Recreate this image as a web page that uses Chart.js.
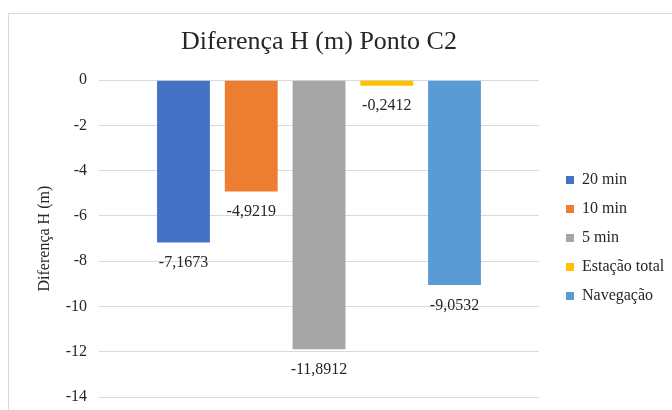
<!DOCTYPE html>
<html>
<head>
<meta charset="utf-8">
<script src="https://cdn.jsdelivr.net/npm/chart.js@4.4.1/dist/chart.umd.min.js"></script>
<style>
    html, body { margin: 0; padding: 0; background: #ffffff; }
    #wrap { width: 672px; height: 410px; }
</style>
</head>
<body>
<div id="wrap"><canvas id="chart" width="672" height="410"></canvas></div>
<script>
// Chart data
const chartTitle = 'Diferença H (m) Ponto C2';
const axisTitle = 'Diferença H (m)';
const categories = [''];
const seriesNames = ['20 min', '10 min', '5 min', 'Estação total', 'Navegação'];
const seriesValues = [-7.1673, -4.9219, -11.8912, -0.2412, -9.0532];
const yMin = -14;
const yMax = 0;
const yStep = 2;

// Office palette
const seriesColors = ['#4472C4', '#ED7D31', '#A5A5A5', '#FFC000', '#5B9BD5'];
const textColor = '#262626';
const gridColor = '#d9d9d9';
const serif = "'Liberation Serif', 'Times New Roman', serif";

function formatComma(v) {
    return String(v).replace('.', ',');
}

// Light frame around the chart area, like the Excel chart border
const framePlugin = {
    id: 'frame',
    beforeDraw(chart) {
        const ctx = chart.ctx;
        ctx.save();
        ctx.strokeStyle = gridColor;
        ctx.lineWidth = 1;
        ctx.strokeRect(8.5, 13.5, 700, 500);
        ctx.restore();
    }
};

// Move the legend out to the right edge
const legendPlugin = {
    id: 'legendSpot',
    afterLayout(chart) {
        const lg = chart.legend;
        if (!lg) return;
        lg.left = 553;
        lg.right = lg.left + lg.width;
        lg.top = 159;
        lg.bottom = lg.top + 220;
    }
};

// Value labels under each bar
const valueLabels = {
    id: 'valueLabels',
    afterDatasetsDraw(chart) {
        const ctx = chart.ctx;
        ctx.save();
        ctx.font = '16px ' + serif;
        ctx.fillStyle = textColor;
        ctx.textAlign = 'center';
        ctx.textBaseline = 'middle';
        chart.data.datasets.forEach((ds, i) => {
            const meta = chart.getDatasetMeta(i);
            meta.data.forEach((bar, j) => {
                ctx.fillText(formatComma(ds.data[j]), bar.x, bar.y + 20.5);
            });
        });
        ctx.restore();
    }
};

const datasets = seriesNames.map((name, i) => ({
    label: name,
    data: [seriesValues[i]],
    backgroundColor: seriesColors[i],
    borderWidth: 0,
    barPercentage: 0.78,
    categoryPercentage: 0.77
}));

new Chart(document.getElementById('chart'), {
    type: 'bar',
    data: {
        labels: categories,
        datasets: datasets
    },
    plugins: [framePlugin, legendPlugin, valueLabels],
    options: {
        responsive: false,
        animation: false,
        layout: {
            padding: { left: 0, right: 133, top: 0, bottom: 13 }
        },
        plugins: {
            title: {
                display: true,
                text: chartTitle,
                fullSize: false,
                color: textColor,
                font: { family: serif, size: 26, weight: 'normal' },
                padding: { top: 27, bottom: 22 }
            },
            legend: {
                position: 'chartArea',
                align: 'start',
                labels: {
                    color: textColor,
                    font: { family: serif, size: 16 },
                    boxWidth: 8,
                    boxHeight: 8,
                    padding: 13
                }
            },
            tooltip: { enabled: false }
        },
        scales: {
            x: {
                display: false,
                grid: { display: false }
            },
            y: {
                min: yMin,
                max: yMax,
                afterFit(scale) {
                    scale.width = 99;
                    scale.paddingTop = 0;
                    scale.paddingBottom = 0;
                },
                ticks: {
                    stepSize: yStep,
                    padding: 12,
                    color: textColor,
                    font: { family: serif, size: 16 },
                    callback: (v) => String(v)
                },
                grid: {
                    color: gridColor,
                    lineWidth: 1,
                    drawTicks: false
                },
                border: { display: false },
                title: {
                    display: true,
                    text: axisTitle,
                    color: textColor,
                    font: { family: serif, size: 16 },
                    padding: { top: 35, bottom: 0 }
                }
            }
        }
    }
});
</script>
</body>
</html>
